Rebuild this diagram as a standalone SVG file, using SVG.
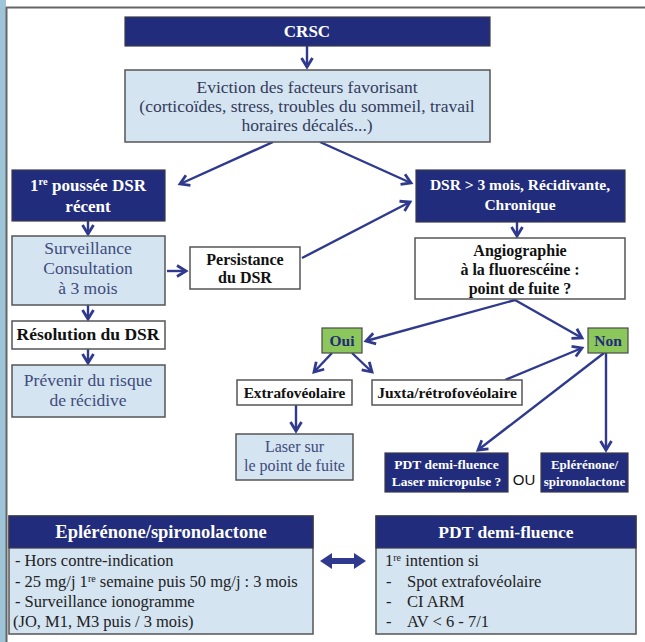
<svg xmlns="http://www.w3.org/2000/svg" width="645" height="642" viewBox="0 0 645 642" font-family="Liberation Serif">
<defs>
<marker id="ah" markerUnits="userSpaceOnUse" markerWidth="16" markerHeight="16" viewBox="0 0 16 16" refX="13" refY="8" orient="auto">
<path d="M4,2.5 L13,8 L4,13.5" fill="none" stroke="#2f3a8f" stroke-width="2.8" stroke-linejoin="miter"/>
</marker>
<style>
text{text-anchor:middle}
.navy{fill:#212c7c;stroke:#3a3a4a;stroke-width:1.2}
.lb{fill:#d5e4f1;stroke:#555;stroke-width:1.5}
.wb{fill:#fff;stroke:#555;stroke-width:1.5}
.gb{fill:#8cc75b;stroke:#4a4a4a;stroke-width:1.2}
.wt{fill:#fff;font-weight:bold}
.bt{fill:#111;font-weight:bold}
.st{fill:#3e4b7c}
.dt{fill:#333b5c}
.gt{fill:#1f2a7a;font-weight:bold;font-size:15.5px}
.body{fill:#222;font-size:16.5px;text-anchor:start}
#conn line{stroke:#2f3a8f;stroke-width:2.4;fill:none;marker-end:url(#ah)}
</style>
</defs>
<rect x="0" y="0" width="645" height="642" fill="#fff"/>
<rect x="0" y="0" width="6" height="642" fill="#9ec4d8"/>
<line x1="6" y1="7.5" x2="645" y2="7.5" stroke="#666" stroke-width="2"/>
<line x1="6.5" y1="7" x2="6.5" y2="642" stroke="#666" stroke-width="2"/>

<g id="conn">
<line x1="307" y1="46" x2="307" y2="67"/>
<line x1="273" y1="142" x2="180" y2="184"/>
<line x1="320" y1="142" x2="411" y2="183"/>
<line x1="88" y1="221" x2="88" y2="234"/>
<line x1="167" y1="271" x2="186" y2="271"/>
<line x1="302" y1="258" x2="410" y2="202"/>
<line x1="88" y1="305" x2="88" y2="319"/>
<line x1="88" y1="349" x2="88" y2="363"/>
<line x1="517" y1="222" x2="517" y2="236"/>
<line x1="515" y1="300" x2="366" y2="341"/>
<line x1="515" y1="300" x2="582" y2="338"/>
<line x1="332" y1="353" x2="314" y2="372"/>
<line x1="352" y1="353" x2="372" y2="372"/>
<line x1="505" y1="380" x2="582" y2="348"/>
<line x1="604" y1="353" x2="478" y2="450"/>
<line x1="606" y1="353" x2="606" y2="450"/>
<line x1="296" y1="405" x2="296" y2="431"/>
<polygon points="320,561 332,553 332,558 354,558 354,553 366,561 354,569 354,564 332,564 332,569" fill="#2f3a8f"/>
</g>

<g id="crsc"><rect class="navy" x="125" y="17" width="365" height="29"/><text class="wt" x="307" y="37" font-size="17">CRSC</text></g>

<g id="eviction"><rect class="lb" x="125" y="70" width="365" height="72"/>
<text class="dt" x="307" y="93" font-size="17.5">Eviction des facteurs favorisant</text>
<text class="dt" x="307" y="112" font-size="17.5">(corticoïdes, stress, troubles du sommeil, travail</text>
<text class="dt" x="307" y="131" font-size="17.5">horaires décalés...)</text></g>

<g id="premiere"><rect class="navy" x="12" y="170" width="153" height="51"/>
<text class="wt" x="88" y="191" font-size="17">1<tspan font-size="10.5" dy="-6">re</tspan><tspan dy="6"> poussée DSR</tspan></text>
<text class="wt" x="88" y="212" font-size="17">récent</text></g>

<g id="surveillance"><rect class="lb" x="12" y="236" width="153" height="69"/>
<text class="st" x="88" y="254" font-size="17.5">Surveillance</text>
<text class="st" x="88" y="274" font-size="17.5">Consultation</text>
<text class="st" x="88" y="294" font-size="17.5">à 3 mois</text></g>

<g id="persistance"><rect class="wb" x="190" y="247" width="110" height="42"/>
<text class="bt" x="245" y="265" font-size="16">Persistance</text>
<text class="bt" x="245" y="283" font-size="16">du DSR</text></g>

<g id="resolution"><rect class="wb" x="12" y="321" width="153" height="28"/>
<text class="bt" x="88" y="340" font-size="17.5">Résolution du DSR</text></g>

<g id="prevenir"><rect class="lb" x="12" y="365" width="153" height="52"/>
<text class="st" x="88" y="386" font-size="17.5">Prévenir du risque</text>
<text class="st" x="88" y="406" font-size="17.5">de récidive</text></g>

<g id="dsr3"><rect class="navy" x="416" y="170" width="209" height="52"/>
<text class="wt" x="520" y="190" font-size="15.5">DSR &gt; 3 mois, Récidivante,</text>
<text class="wt" x="520" y="210" font-size="15.5">Chronique</text></g>

<g id="angio"><rect class="wb" x="415" y="238" width="210" height="61"/>
<text class="bt" x="520" y="256" font-size="16">Angiographie</text>
<text class="bt" x="520" y="275" font-size="16">à la fluorescéine :</text>
<text class="bt" x="520" y="294" font-size="16">point de fuite ?</text></g>

<g id="oui"><rect class="gb" x="322" y="328" width="40" height="25"/><text class="gt" x="342" y="346">Oui</text></g>
<g id="non"><rect class="gb" x="588" y="328" width="40" height="25"/><text class="gt" x="608" y="346">Non</text></g>

<g id="extra"><rect class="wb" x="237" y="380" width="115" height="25"/>
<text class="bt" x="294.5" y="398" font-size="15.3">Extrafovéolaire</text></g>

<g id="juxta"><rect class="wb" x="372" y="380" width="150" height="25"/>
<text class="bt" x="447" y="398" font-size="15.5">Juxta/rétrofovéolaire</text></g>

<g id="laser"><rect class="lb" x="236" y="434" width="117" height="46"/>
<text class="st" x="294.5" y="452" font-size="16">Laser sur</text>
<text class="st" x="294.5" y="471" font-size="16">le point de fuite</text></g>

<g id="pdt"><rect class="navy" x="385" y="453" width="123" height="39"/>
<text class="wt" x="446.5" y="469" font-size="13.5">PDT demi-fluence</text>
<text class="wt" x="446.5" y="486" font-size="13.5">Laser micropulse ?</text></g>

<text id="ou" x="524" y="485" font-size="15" font-family="Liberation Sans" fill="#111">OU</text>

<g id="eple"><rect class="navy" x="541" y="453" width="87" height="39"/>
<text class="wt" x="584.5" y="469" font-size="13">Eplérénone/</text>
<text class="wt" x="584.5" y="486" font-size="13">spironolactone</text></g>

<g id="eple-card"><rect class="lb" x="9" y="516" width="304" height="118"/>
<rect class="navy" x="9" y="516" width="304" height="32"/>
<text class="wt" x="161" y="538" font-size="18.5">Eplérénone/spironolactone</text>
<text class="body" x="15" y="566">- Hors contre-indication</text>
<text class="body" x="15" y="587">- 25 mg/j 1<tspan font-size="10" dy="-5">re</tspan><tspan dy="5"> semaine puis 50 mg/j : 3 mois</tspan></text>
<text class="body" x="15" y="607">- Surveillance ionogramme</text>
<text class="body" x="13" y="627">(JO, M1, M3 puis / 3 mois)</text></g>

<g id="pdt-card"><rect class="lb" x="376" y="516" width="260" height="118"/>
<rect class="navy" x="376" y="516" width="260" height="32"/>
<text class="wt" x="506" y="538" font-size="17.5">PDT demi-fluence</text>
<text class="body" x="385" y="566">1<tspan font-size="10" dy="-5">re</tspan><tspan dy="5"> intention si</tspan></text>
<text class="body" x="386" y="587">-</text><text class="body" x="407" y="587">Spot extrafovéolaire</text>
<text class="body" x="386" y="607">-</text><text class="body" x="407" y="607">CI ARM</text>
<text class="body" x="386" y="627">-</text><text class="body" x="407" y="627">AV &lt; 6 - 7/1</text></g>
</svg>
